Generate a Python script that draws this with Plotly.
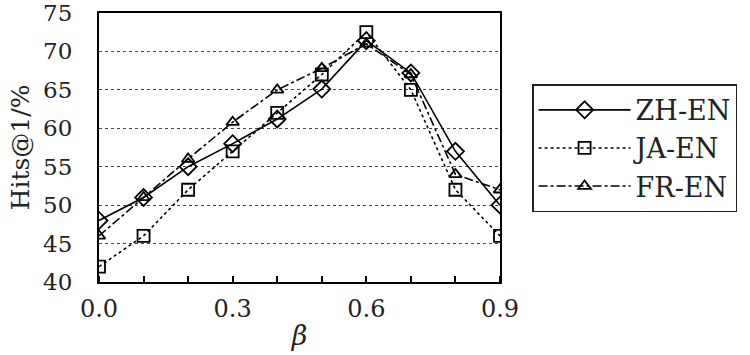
import plotly.graph_objects as go

beta = [0.0, 0.1, 0.2, 0.3, 0.4, 0.5, 0.6, 0.7, 0.8, 0.9]
zh_en = [48, 51, 55, 58, 61.2, 65.1, 71.4, 67.2, 57, 50]
ja_en = [42, 46, 52, 57, 62, 67, 72.5, 65, 52, 46]
fr_en = [46, 51, 56, 60.8, 65, 67.8, 71, 67, 54, 52]
x_ticks = [0.0, 0.3, 0.6, 0.9]
x_tick_labels = ["0.0", "0.3", "0.6", "0.9"]
y_ticks = [40, 45, 50, 55, 60, 65, 70, 75]

FONT = "DejaVu Serif"

fig = go.Figure()
series = [
    ("ZH-EN", zh_en, "solid", "diamond-open", 13),
    ("JA-EN", ja_en, "dot", "square-open", 12),
    ("FR-EN", fr_en, "dashdot", "triangle-up-open", 11),
]
for name, vals, dash, sym, sz in series:
    fig.add_trace(go.Scatter(
        x=beta, y=vals, name=name, mode="lines+markers",
        line=dict(color="black", width=1.6, dash=dash),
        marker=dict(symbol=sym, size=sz, color="black", line=dict(width=1.8, color="black")),
    ))

fig.update_layout(
    width=750, height=355,
    margin=dict(l=99, r=250, t=13, b=73),
    paper_bgcolor="white", plot_bgcolor="white",
    font=dict(family=FONT, size=23, color="#222"),
    showlegend=True,
    legend=dict(
        x=1.08, y=0.735, xanchor="left", yanchor="top",
        bordercolor="#222", borderwidth=1.5, bgcolor="white",
        font=dict(family=FONT, size=27, color="#222"),
        itemwidth=92, tracegroupgap=0,
    ),
    xaxis=dict(
        range=[0, 0.9], tickvals=x_ticks, ticktext=x_tick_labels,
        showgrid=False, zeroline=False, automargin=False,
        showline=True, linecolor="black", linewidth=2, mirror=True,
        ticks="", tickfont=dict(family=FONT, size=24), ticklabeloverflow="allow",
        ticklabelstandoff=4,
        title=dict(text="<i>β</i>", font=dict(family=FONT, size=27), standoff=4),
        minor=dict(tickvals=beta, ticks="inside", ticklen=6, tickcolor="black", tickwidth=2),
    ),
    yaxis=dict(
        range=[40, 75], tickvals=y_ticks,
        showgrid=True, gridcolor="#444", griddash="dot", gridwidth=1,
        zeroline=False, automargin=False,
        showline=True, linecolor="black", linewidth=2, mirror=True,
        ticks="", tickfont=dict(family=FONT, size=23), ticklabelstandoff=20,
        ticklabeloverflow="allow",
        title=dict(text="Hits@1/%", font=dict(family=FONT, size=25), standoff=6),
    ),
)

fig.write_html("out.html", config={"displayModeBar": False},
               post_script="document.body.style.margin='0';")
